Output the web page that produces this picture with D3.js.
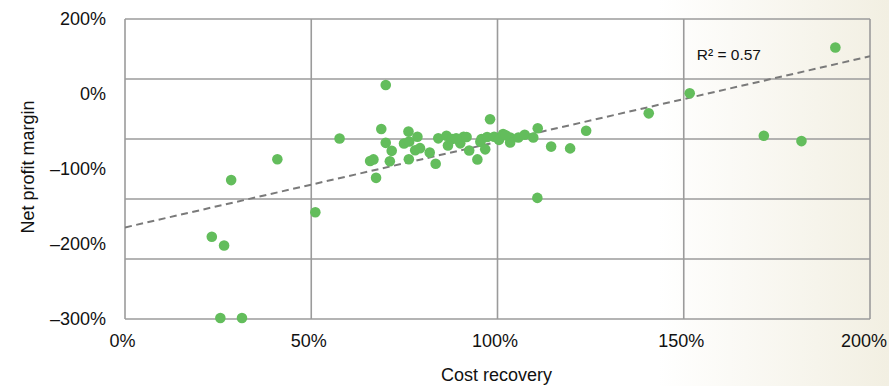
<!DOCTYPE html>
<html>
<head>
<meta charset="utf-8">
<script src="https://cdn.jsdelivr.net/npm/d3@7/dist/d3.min.js"></script>
<style>
  html, body { margin: 0; padding: 0; background: #fff; }
  svg { display: block; font-family: "Liberation Sans", Arial, sans-serif; }
</style>
</head>
<body>
<svg id="chart" width="889" height="386"></svg>
<script>
// Cost recovery (%) per operator
const costRecovery = [
  23.3, 26.6, 25.6, 31.4, 28.5, 40.9, 51.1, 57.6, 70.0, 68.8,
  70.0, 71.6, 65.8, 66.7, 67.4, 71.1, 76.1, 78.5, 74.9, 76.3,
  77.9, 79.2, 76.2, 81.8, 83.4, 84.1, 86.3, 86.7, 87.8, 90.0,
  90.9, 91.7, 92.4, 94.6, 95.4, 95.7, 96.7, 97.2, 98.0, 99.1,
  100.4, 101.5, 103.4, 103.4, 105.6, 107.3, 109.6, 110.8, 110.7, 114.4,
  119.5, 123.8, 140.6, 151.6, 171.5, 181.6, 190.7, 88.9, 102.2
];
// Net profit margin (%) per operator
const netProfitMargin = [
  -190.3, -202.0, -298.7, -298.7, -114.8, -87.0, -157.7, -59.3, 12.1, -46.7,
  -65.1, -75.8, -89.3, -87.2, -111.8, -89.7, -50.1, -57.0, -66.0, -63.4,
  -74.9, -72.2, -87.0, -78.1, -92.9, -59.1, -55.7, -68.7, -60.1, -65.8,
  -57.0, -57.4, -75.4, -87.2, -63.8, -60.1, -73.8, -57.4, -33.6, -57.0,
  -61.1, -53.4, -58.0, -64.7, -58.0, -54.4, -58.0, -45.6, -138.5, -70.1,
  -72.5, -49.0, -25.8, 1.1, -55.7, -62.8, 62.0, -59.1, -55.0
];

// Axis ticks
const xTickValues = [0, 50, 100, 150, 200];
const xTickLabels = ["0%", "50%", "100%", "150%", "200%"];
const yTickValues = [100, 0, -100, -200, -300];
const yTickLabels = ["200%", "0%", "\u2013100%", "\u2013200%", "\u2013300%"];
const yGridValues = [100, 20, -60, -140, -220, -300];

// Linear trend line (intercept, slope) and its fit
const trendIntercept = -177.9;
const trendSlope = 1.141;
const rSquared = "0.57";

const W = 889, H = 386;
const margin = { left: 125, right: 19, top: 19, bottom: 69 };
const svg = d3.select("#chart");

// Page background: white fading to a warm beige on the right
const defs = svg.append("defs");
const grad = defs.append("linearGradient").attr("id", "bg").attr("x1", "0").attr("x2", "1").attr("y1", "0").attr("y2", "0");
grad.append("stop").attr("offset", "0.74").attr("stop-color", "#ffffff");
grad.append("stop").attr("offset", "1").attr("stop-color", "#f2efe2");
svg.append("rect").attr("width", W).attr("height", H).attr("fill", "url(#bg)");

const x = d3.scaleLinear().domain([0, 200]).range([margin.left, W - margin.right]);
const y = d3.scaleLinear().domain([-300, 100]).range([H - margin.bottom + 2, margin.top]);

defs.append("clipPath").attr("id", "plotClip").append("rect")
  .attr("x", x(0)).attr("y", y(100)).attr("width", x(200) - x(0)).attr("height", y(-300) - y(100));

const gridColor = "#9b9b9b";
const grid = svg.append("g");
grid.selectAll("line.h").data(yGridValues).join("line")
  .attr("x1", x(0)).attr("x2", x(200))
  .attr("y1", d => y(d)).attr("y2", d => y(d))
  .attr("stroke", gridColor).attr("stroke-width", 1.6);
grid.selectAll("line.v").data(xTickValues).join("line")
  .attr("y1", y(100)).attr("y2", y(-300))
  .attr("x1", d => x(d)).attr("x2", d => x(d))
  .attr("stroke", gridColor).attr("stroke-width", 1.6);

// Axis labels
const yAxis = d3.axisLeft(y).tickValues(yTickValues)
  .tickFormat((d, i) => yTickLabels[i]).tickSize(0).tickPadding(0);
const gy = svg.append("g").attr("transform", `translate(${x(0) - 19},0)`).call(yAxis);
gy.select(".domain").remove();
gy.selectAll("text").attr("font-size", 18).attr("fill", "#111")
  .attr("font-family", "Liberation Sans, Arial, sans-serif");

const xAxis = d3.axisBottom(x).tickValues(xTickValues)
  .tickFormat((d, i) => xTickLabels[i]).tickSize(0).tickPadding(0);
const gx = svg.append("g").attr("transform", `translate(0,${y(-300) + 15})`).call(xAxis);
gx.select(".domain").remove();
gx.selectAll("text").attr("font-size", 18).attr("fill", "#111")
  .attr("font-family", "Liberation Sans, Arial, sans-serif")
  .attr("dx", -3)
  .each(function() {
    const tx = d3.select(this.parentNode).attr("transform");
    const cx = +tx.match(/translate\(([-\d.]+)/)[1] - 3;
    const half = this.getComputedTextLength() / 2;
    const over = cx + half - (W - 2);
    if (over > 0) d3.select(this).attr("dx", -3 - over);
  });

// Trend line
const trend = d3.line().x(d => x(d)).y(d => y(trendIntercept + trendSlope * d));
svg.append("path").datum([0, 200]).attr("d", trend)
  .attr("clip-path", "url(#plotClip)")
  .attr("fill", "none").attr("stroke", "#7a7a7a").attr("stroke-width", 2)
  .attr("stroke-dasharray", "7,4.5");

// Points
svg.append("g").selectAll("circle").data(costRecovery).join("circle")
  .attr("cx", d => x(d)).attr("cy", (d, i) => y(netProfitMargin[i]))
  .attr("r", 5.3).attr("fill", "#63bd5c");

// R² annotation
svg.append("text").attr("x", x(153.5)).attr("y", y(45))
  .attr("font-size", 15.5).attr("fill", "#111").text("R\u00b2 = " + rSquared);

// Axis titles
svg.append("text").attr("x", (x(0) + x(200)) / 2 - 1).attr("y", 381)
  .attr("text-anchor", "middle").attr("font-size", 18).attr("fill", "#111").text("Cost recovery");
svg.append("text").attr("transform", `translate(34,${167}) rotate(-90)`)
  .attr("text-anchor", "middle").attr("font-size", 18).attr("fill", "#111").text("Net profit margin");
</script>
</body>
</html>
